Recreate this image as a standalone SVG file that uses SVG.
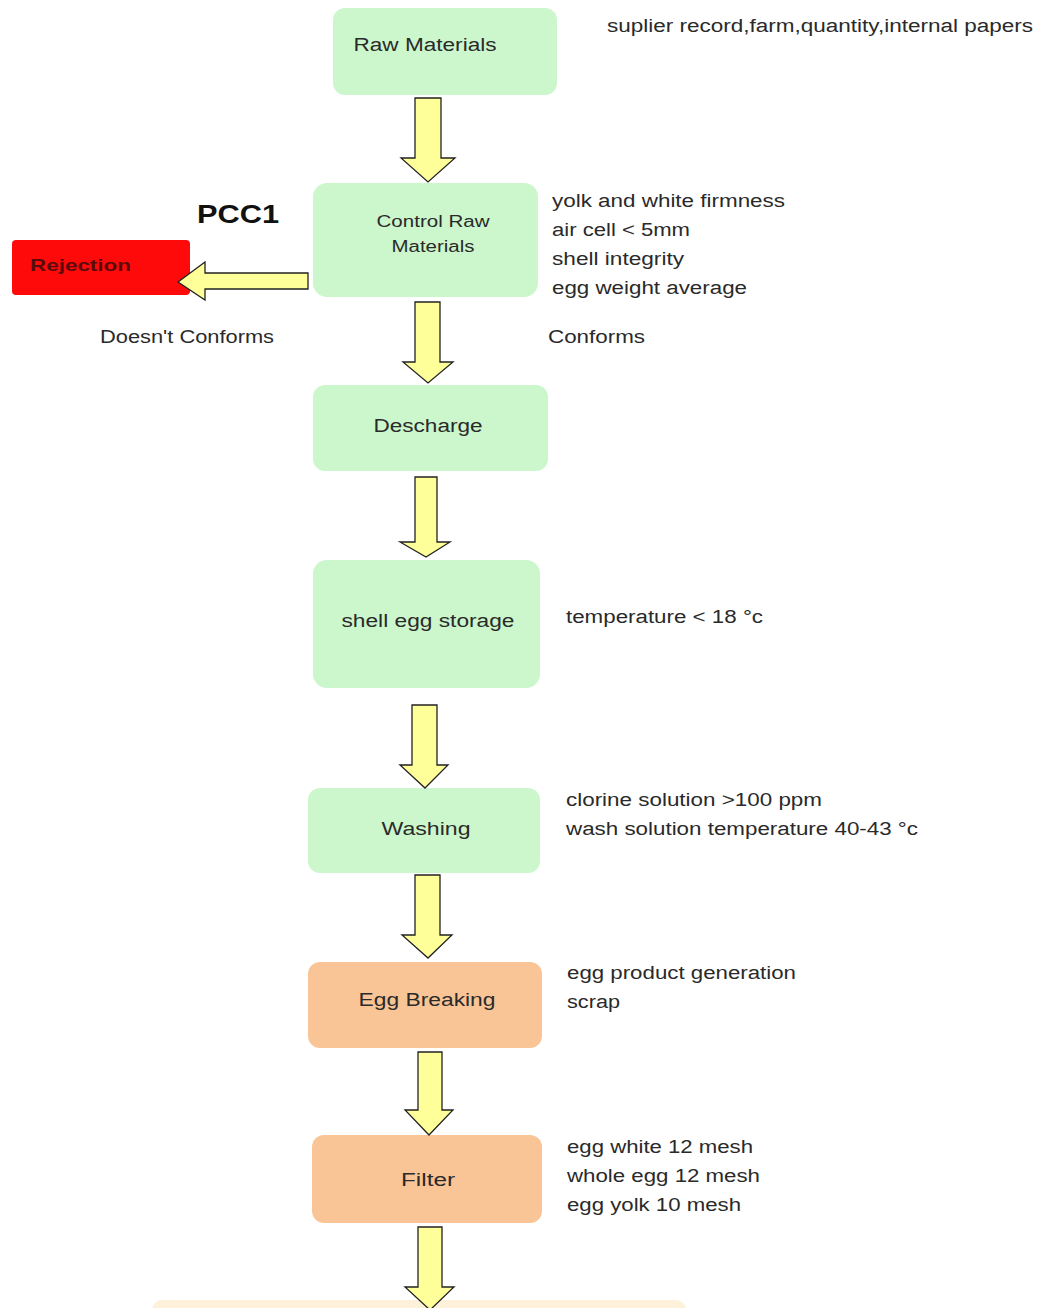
<svg xmlns="http://www.w3.org/2000/svg" width="1043" height="1308" viewBox="0 0 1043 1308">
<style>
.g{fill:#CCF7CC;}
.o{fill:#F9C596;}
.t{font-family:"Liberation Sans",Arial,sans-serif;font-size:18px;fill:#2a2a2a;}
.n{font-family:"Liberation Sans",Arial,sans-serif;font-size:18px;fill:#2a2a2a;text-anchor:middle;}
.s{font-size:16px;}
.a{fill:#FFFF99;stroke:#222;stroke-width:1.3;stroke-linejoin:miter;}
</style>
<rect width="1043" height="1308" fill="#ffffff"/>
<g id="node-raw"><rect class="g" x="333" y="8" width="224" height="87" rx="12"/><text class="n" x="425" y="51" textLength="143" lengthAdjust="spacingAndGlyphs">Raw Materials</text></g>
<g id="node-control"><rect class="g" x="313" y="183" width="225" height="114" rx="14"/><text class="n s" x="433" y="227" textLength="113" lengthAdjust="spacingAndGlyphs">Control Raw</text><text class="n s" x="433" y="252" textLength="83" lengthAdjust="spacingAndGlyphs">Materials</text></g>
<g id="node-rejection"><rect x="12" y="240" width="178" height="55" rx="4" fill="#FF0A0A"/><text x="30" y="271" font-family="Liberation Sans,Arial,sans-serif" font-size="17" font-weight="bold" fill="#5a0a0a" textLength="101" lengthAdjust="spacingAndGlyphs">Rejection</text></g>
<g id="node-descharge"><rect class="g" x="313" y="385" width="235" height="86" rx="12"/><text class="n" x="428" y="432" textLength="109" lengthAdjust="spacingAndGlyphs">Descharge</text></g>
<g id="node-storage"><rect class="g" x="313" y="560" width="227" height="128" rx="14"/><text class="n" x="428" y="627" textLength="173" lengthAdjust="spacingAndGlyphs">shell egg storage</text></g>
<g id="node-washing"><rect class="g" x="308" y="788" width="232" height="85" rx="12"/><text class="n" x="426" y="835" textLength="89" lengthAdjust="spacingAndGlyphs">Washing</text></g>
<g id="node-breaking"><rect class="o" x="308" y="962" width="234" height="86" rx="12"/><text class="n" x="427" y="1006" textLength="137" lengthAdjust="spacingAndGlyphs">Egg Breaking</text></g>
<g id="node-filter"><rect class="o" x="312" y="1135" width="230" height="88" rx="12"/><text class="n" x="428" y="1186" textLength="54" lengthAdjust="spacingAndGlyphs">Filter</text></g>
<g id="node-next"><rect x="152" y="1300" width="534" height="30" rx="10" fill="#FDF1DA"/></g>
<g id="connectors">
<polygon class="a" points="415,98 441,98 441,158 455,158 428,182 401,158 415,158"/>
<polygon class="a" points="415,302 440,302 440,362 453,362 428,383 403,362 415,362"/>
<polygon class="a" points="415,477 437,477 437,542 450,542 426,557 400,542 415,542"/>
<polygon class="a" points="412,705 437,705 437,765 448,765 425,788 400,765 412,765"/>
<polygon class="a" points="415,875 440,875 440,935 452,935 428,958 402,935 415,935"/>
<polygon class="a" points="418,1052 442,1052 442,1110 453,1110 429,1135 405,1110 418,1110"/>
<polygon class="a" points="418,1227 442,1227 442,1287 454,1287 430,1310 405,1287 418,1287"/>
<polygon class="a" points="308,273 308,289 205,289 205,300 178,282 205,262 205,273"/>
</g>
<g id="labels">
<text x="197" y="223" font-family="Liberation Sans,Arial,sans-serif" font-size="25" font-weight="bold" fill="#111" textLength="82" lengthAdjust="spacingAndGlyphs">PCC1</text>
<text class="t" x="100" y="343" textLength="174" lengthAdjust="spacingAndGlyphs">Doesn't Conforms</text>
<text class="t" x="548" y="343" textLength="97" lengthAdjust="spacingAndGlyphs">Conforms</text>
<text class="t" x="607" y="32" textLength="426" lengthAdjust="spacingAndGlyphs">suplier record,farm,quantity,internal papers</text>
<text class="t" x="552" y="207" textLength="233" lengthAdjust="spacingAndGlyphs">yolk and white firmness</text>
<text class="t" x="552" y="236" textLength="138" lengthAdjust="spacingAndGlyphs">air cell &lt; 5mm</text>
<text class="t" x="552" y="265" textLength="132" lengthAdjust="spacingAndGlyphs">shell integrity</text>
<text class="t" x="552" y="294" textLength="195" lengthAdjust="spacingAndGlyphs">egg weight average</text>
<text class="t" x="566" y="623" textLength="197" lengthAdjust="spacingAndGlyphs">temperature &lt; 18 °c</text>
<text class="t" x="566" y="806" textLength="256" lengthAdjust="spacingAndGlyphs">clorine solution &gt;100 ppm</text>
<text class="t" x="566" y="835" textLength="352" lengthAdjust="spacingAndGlyphs">wash solution temperature 40-43 °c</text>
<text class="t" x="567" y="979" textLength="229" lengthAdjust="spacingAndGlyphs">egg product generation</text>
<text class="t" x="567" y="1008" textLength="53" lengthAdjust="spacingAndGlyphs">scrap</text>
<text class="t" x="567" y="1153" textLength="186" lengthAdjust="spacingAndGlyphs">egg white 12 mesh</text>
<text class="t" x="567" y="1182" textLength="193" lengthAdjust="spacingAndGlyphs">whole egg 12 mesh</text>
<text class="t" x="567" y="1211" textLength="174" lengthAdjust="spacingAndGlyphs">egg yolk 10 mesh</text>
</g>
</svg>
